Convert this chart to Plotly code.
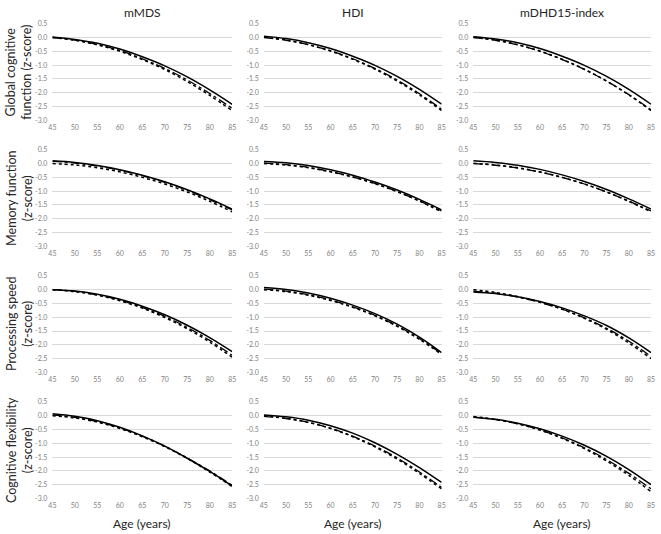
import plotly.graph_objects as go

ages = [45, 50, 55, 60, 65, 70, 75, 80, 85]
columns = ["mMDS", "HDI", "mDHD15-index"]
rows = ["Global cognitive<br>function (z-score)", "Memory function<br>(z-score)",
        "Processing speed<br>(z-score)", "Cognitive flexibility<br>(z-score)"]
x_label = "Age (years)"
y_ticks = [0.5, 0.0, -0.5, -1.0, -1.5, -2.0, -2.5, -3.0]
y_ticktext = ["0.5", "0.0", "-0.5", "-1.0", "-1.5", "-2.0", "-2.5", "-3.0"]

# Global cognitive function
glob_mmds_solid = [0.02, -0.07, -0.21, -0.42, -0.70, -1.03, -1.43, -1.90, -2.42]
glob_mmds_dashdot = [0.00, -0.09, -0.25, -0.47, -0.77, -1.12, -1.54, -2.03, -2.57]
glob_mmds_dot = [0.00, -0.10, -0.27, -0.50, -0.80, -1.16, -1.60, -2.10, -2.65]
glob_hdi_solid = [0.05, -0.04, -0.19, -0.40, -0.68, -1.01, -1.41, -1.88, -2.42]
glob_hdi_dashdot = [0.00, -0.10, -0.26, -0.48, -0.77, -1.12, -1.54, -2.04, -2.60]
glob_hdi_dot = [0.02, -0.09, -0.26, -0.49, -0.79, -1.15, -1.58, -2.08, -2.65]
glob_dhd_solid = [0.03, -0.05, -0.19, -0.40, -0.68, -1.01, -1.41, -1.88, -2.42]
glob_dhd_dashdot = [0.00, -0.10, -0.27, -0.50, -0.80, -1.16, -1.58, -2.07, -2.62]
glob_dhd_dot = [0.01, -0.09, -0.26, -0.49, -0.79, -1.15, -1.58, -2.08, -2.65]

# Memory function
mem_mmds_solid = [0.10, 0.04, -0.07, -0.22, -0.42, -0.66, -0.95, -1.28, -1.65]
mem_mmds_dashdot = [0.08, 0.02, -0.09, -0.24, -0.44, -0.68, -0.97, -1.31, -1.68]
mem_mmds_dot = [0.00, -0.05, -0.15, -0.30, -0.50, -0.74, -1.03, -1.37, -1.75]
mem_hdi_solid = [0.08, 0.03, -0.07, -0.22, -0.42, -0.67, -0.96, -1.30, -1.68]
mem_hdi_dashdot = [0.02, -0.04, -0.14, -0.29, -0.48, -0.72, -1.01, -1.35, -1.72]
mem_hdi_dot = [0.00, -0.05, -0.15, -0.30, -0.49, -0.73, -1.02, -1.36, -1.75]
mem_dhd_solid = [0.10, 0.04, -0.06, -0.21, -0.41, -0.65, -0.94, -1.28, -1.65]
mem_dhd_dashdot = [0.00, -0.06, -0.16, -0.31, -0.50, -0.74, -1.03, -1.36, -1.72]
mem_dhd_dot = [0.01, -0.05, -0.15, -0.30, -0.50, -0.74, -1.03, -1.37, -1.75]

# Processing speed
proc_mmds_solid = [0.00, -0.05, -0.17, -0.35, -0.60, -0.91, -1.29, -1.74, -2.25]
proc_mmds_dashdot = [0.00, -0.06, -0.19, -0.38, -0.64, -0.97, -1.37, -1.84, -2.38]
proc_mmds_dot = [0.00, -0.07, -0.20, -0.40, -0.67, -1.01, -1.42, -1.90, -2.45]
proc_hdi_solid = [0.08, 0.01, -0.12, -0.31, -0.56, -0.87, -1.25, -1.72, -2.28]
proc_hdi_dashdot = [0.02, -0.05, -0.18, -0.37, -0.62, -0.93, -1.31, -1.77, -2.32]
proc_hdi_dot = [0.00, -0.07, -0.20, -0.39, -0.64, -0.95, -1.33, -1.80, -2.35]
proc_dhd_solid = [-0.08, -0.14, -0.26, -0.43, -0.66, -0.95, -1.30, -1.75, -2.28]
proc_dhd_dashdot = [-0.05, -0.13, -0.27, -0.46, -0.71, -1.02, -1.40, -1.87, -2.42]
proc_dhd_dot = [0.00, -0.10, -0.25, -0.45, -0.71, -1.04, -1.44, -1.93, -2.50]

# Cognitive flexibility
flex_mmds_solid = [0.07, -0.02, -0.18, -0.42, -0.73, -1.10, -1.54, -2.02, -2.55]
flex_mmds_dashdot = [0.03, -0.06, -0.21, -0.44, -0.74, -1.10, -1.53, -2.00, -2.52]
flex_mmds_dot = [0.00, -0.08, -0.23, -0.46, -0.76, -1.12, -1.55, -2.04, -2.57]
flex_hdi_solid = [0.03, -0.04, -0.16, -0.36, -0.63, -0.98, -1.40, -1.88, -2.42]
flex_hdi_dashdot = [-0.02, -0.10, -0.24, -0.45, -0.74, -1.10, -1.53, -2.04, -2.60]
flex_hdi_dot = [0.00, -0.09, -0.24, -0.46, -0.76, -1.13, -1.57, -2.09, -2.65]
flex_dhd_solid = [-0.05, -0.13, -0.27, -0.47, -0.74, -1.07, -1.47, -1.95, -2.50]
flex_dhd_dashdot = [-0.05, -0.14, -0.29, -0.51, -0.80, -1.16, -1.59, -2.09, -2.65]
flex_dhd_dot = [-0.03, -0.13, -0.29, -0.52, -0.82, -1.19, -1.64, -2.16, -2.75]

panels = [
    [(glob_mmds_solid, glob_mmds_dashdot, glob_mmds_dot),
     (glob_hdi_solid, glob_hdi_dashdot, glob_hdi_dot),
     (glob_dhd_solid, glob_dhd_dashdot, glob_dhd_dot)],
    [(mem_mmds_solid, mem_mmds_dashdot, mem_mmds_dot),
     (mem_hdi_solid, mem_hdi_dashdot, mem_hdi_dot),
     (mem_dhd_solid, mem_dhd_dashdot, mem_dhd_dot)],
    [(proc_mmds_solid, proc_mmds_dashdot, proc_mmds_dot),
     (proc_hdi_solid, proc_hdi_dashdot, proc_hdi_dot),
     (proc_dhd_solid, proc_dhd_dashdot, proc_dhd_dot)],
    [(flex_mmds_solid, flex_mmds_dashdot, flex_mmds_dot),
     (flex_hdi_solid, flex_hdi_dashdot, flex_hdi_dot),
     (flex_dhd_solid, flex_dhd_dashdot, flex_dhd_dot)],
]

W, H = 661, 534
col_px = [(49, 231), (263, 443), (475, 655)]
row_px = [(19, 117), (147, 245), (275, 373), (403, 501)]
FONT = "Lato, 'Open Sans', sans-serif"

fig = go.Figure()
layout = dict(width=W, height=H, margin=dict(l=0, r=0, t=0, b=0),
              paper_bgcolor="white", plot_bgcolor="white", showlegend=False,
              font=dict(family=FONT, color="#595959"))

for i in range(4):
    for j in range(3):
        k = i * 3 + j + 1
        xa = "x" if k == 1 else f"x{k}"
        ya = "y" if k == 1 else f"y{k}"
        solid, dashdot, dot = panels[i][j]
        for vals, dash, w in ((dot, "dot", 1.5), (dashdot, "dashdot", 1.3), (solid, "solid", 1.5)):
            fig.add_trace(go.Scatter(x=ages, y=vals, mode="lines", xaxis=xa, yaxis=ya,
                                     line=dict(color="black", width=w, dash=dash, shape="spline"),
                                     hoverinfo="skip"))
        x0, x1 = col_px[j]
        y0, y1 = row_px[i]
        layout["xaxis" if k == 1 else f"xaxis{k}"] = dict(
            domain=[x0 / W, x1 / W], anchor=ya, range=[45, 85],
            tickvals=ages, ticktext=[str(a) for a in ages],
            showgrid=False, zeroline=False, showline=False, ticks="",
            tickfont=dict(size=7, color="#7f7f7f", family=FONT), ticklabelstandoff=2)
        layout["yaxis" if k == 1 else f"yaxis{k}"] = dict(
            domain=[1 - y1 / H, 1 - y0 / H], anchor=xa, range=[-3.0, 0.5],
            tickvals=y_ticks, ticktext=y_ticktext,
            showgrid=True, gridcolor="#d9d9d9", gridwidth=1, zeroline=False,
            showline=False, ticks="", tickfont=dict(size=7, color="#7f7f7f", family=FONT),
            ticklabelstandoff=4)

annotations = []
for j, name in enumerate(columns):
    cx = (col_px[j][0] + col_px[j][1]) / 2 / W
    annotations.append(dict(text=name, x=cx, y=1 - 8 / H, xref="paper", yref="paper",
                            showarrow=False, xanchor="center", yanchor="middle",
                            font=dict(size=12, color="#262626", family=FONT)))
    annotations.append(dict(text=x_label, x=cx, y=1 - 526 / H, xref="paper", yref="paper",
                            showarrow=False, xanchor="center", yanchor="middle",
                            font=dict(size=12, color="#262626", family=FONT)))
for i, name in enumerate(rows):
    cy = 1 - (row_px[i][0] + row_px[i][1]) / 2 / H
    annotations.append(dict(text=name, x=15 / W, y=cy, xref="paper", yref="paper",
                            showarrow=False, xanchor="center", yanchor="middle", textangle=-90,
                            font=dict(size=12.5, color="#262626", family=FONT)))
layout["annotations"] = annotations

fig.update_layout(**layout)
fig.write_html("out.html", config={"displayModeBar": False},
               post_script="document.body.style.margin='0';document.body.style.overflow='hidden';")
